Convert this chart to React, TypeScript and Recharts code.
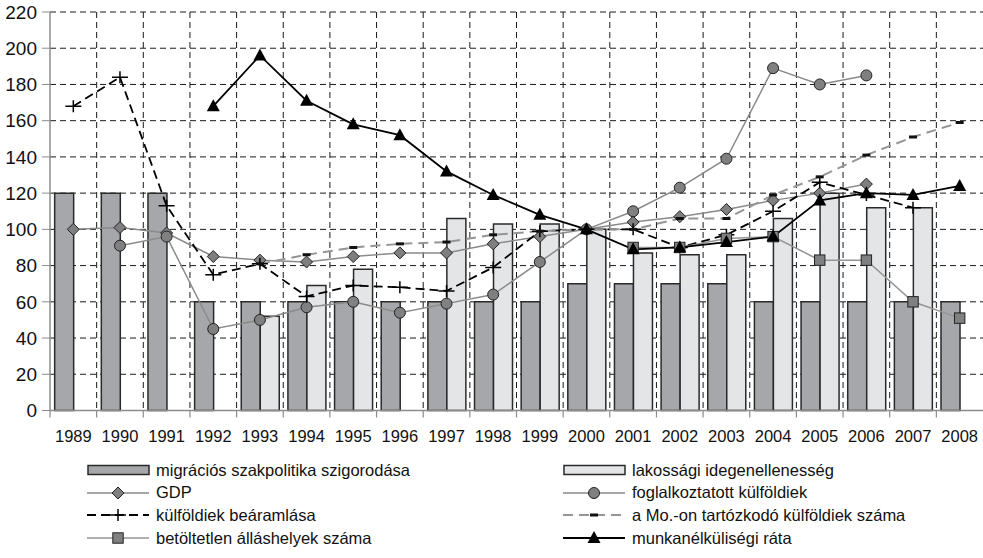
import { ComposedChart, Bar, Line, XAxis, YAxis, CartesianGrid } from 'recharts'

const years = ['1989', '1990', '1991', '1992', '1993', '1994', '1995', '1996', '1997', '1998', '1999', '2000', '2001', '2002', '2003', '2004', '2005', '2006', '2007', '2008']

// index values (null = no data that year)
const szigorodas = [120, 120, 120, 60, 60, 60, 60, 60, 60, 60, 60, 70, 70, 70, 70, 60, 60, 60, 60, 60]
const idegenellenesseg = [null, null, null, null, 52, 69, 78, null, 106, 103, 103, 100, 87, 86, 86, 106, 120, 112, 112, null]
const gdp = [100, 101, 98, 85, 83, 82, 85, 87, 87, 92, 96, 100, 104, 107, 111, 116, 120, 125, null, null]
const foglalkoztatott = [null, 91, 96, 45, 50, 57, 60, 54, 59, 64, 82, 100, 110, 123, 139, 189, 180, 185, null, null]
const bearamlas = [168, 184, 113, 75, 81, 63, 69, 68, 66, 79, 99, 100, 100, 90, 97, 110, 126, 119, 112, null]
const tartozkodo = [null, null, null, null, 81, 86, 90, 92, 93, 97, 99, 100, 100, 106, 106, 119, 129, 141, 151, 159]
const betoltetlen = [null, null, null, null, null, null, null, null, null, null, null, null, 90, 90, 95, 96, 83, 83, 60, 51]
const munkanelkuliseg = [null, null, null, 168, 196, 171, 158, 152, 132, 119, 108, 100, 89, 90, 93, 96, 116, 120, 119, 124]

const yTicks = [0, 20, 40, 60, 80, 100, 120, 140, 160, 180, 200, 220]

const data = years.map((year, i) => ({
  year,
  szigorodas: szigorodas[i],
  idegenellenesseg: idegenellenesseg[i],
  gdp: gdp[i],
  foglalkoztatott: foglalkoztatott[i],
  bearamlas: bearamlas[i],
  tartozkodo: tartozkodo[i],
  betoltetlen: betoltetlen[i],
  munkanelkuliseg: munkanelkuliseg[i],
}))

const W = 983
const H = 558
const MARGIN = { top: 12, right: 0, bottom: 117.5, left: 0 }
const Y_AXIS_W = 50
const X_AXIS_H = 30
const BAND = (W - MARGIN.left - MARGIN.right - Y_AXIS_W) / years.length
const FONT = '"Liberation Sans", Arial, sans-serif'

type DotProps = { cx?: number; cy?: number; index?: number }

const diamond = ({ cx, cy, index }: DotProps) =>
  cy == null || cx == null ? <g key={index} /> : (
    <path key={index} d={`M${cx},${cy - 6}L${cx + 6},${cy}L${cx},${cy + 6}L${cx - 6},${cy}Z`} fill="#7f7f7f" stroke="#222" strokeWidth={1} />
  )

const circle = ({ cx, cy, index }: DotProps) =>
  cy == null || cx == null ? <g key={index} /> : (
    <circle key={index} cx={cx} cy={cy} r={5.5} fill="#808080" stroke="#222" strokeWidth={1} />
  )

const plus = ({ cx, cy, index }: DotProps) =>
  cy == null || cx == null ? <g key={index} /> : (
    <path key={index} d={`M${cx - 8},${cy}H${cx + 8}M${cx},${cy - 6}V${cy + 6}`} stroke="#000" strokeWidth={1.5} fill="none" />
  )

const dash = ({ cx, cy, index }: DotProps) =>
  cy == null || cx == null ? <g key={index} /> : (
    <rect key={index} x={cx - 4} y={cy - 1.5} width={8} height={3} fill="#111" />
  )

const square = ({ cx, cy, index }: DotProps) =>
  cy == null || cx == null ? <g key={index} /> : (
    <rect key={index} x={cx - 5.2} y={cy - 5.2} width={10.4} height={10.4} fill="#808080" stroke="#222" strokeWidth={1} />
  )

const triangle = ({ cx, cy, index }: DotProps) =>
  cy == null || cx == null ? <g key={index} /> : (
    <path key={index} d={`M${cx},${cy - 7}L${cx + 6.5},${cy + 5}L${cx - 6.5},${cy + 5}Z`} fill="#000" />
  )

type Series = {
  key: string
  name: string
  type: 'bar' | 'line'
  color: string
  width?: number
  dashArray?: string
  dot?: (p: DotProps) => any
}

const series: Series[] = [
  { key: 'szigorodas', name: 'migrációs szakpolitika szigorodása', type: 'bar', color: '#a6a7aa' },
  { key: 'idegenellenesseg', name: 'lakossági idegenellenesség', type: 'bar', color: '#e4e5e7' },
  { key: 'gdp', name: 'GDP', type: 'line', color: '#8a8a8a', width: 1.5, dot: diamond },
  { key: 'foglalkoztatott', name: 'foglalkoztatott külföldiek', type: 'line', color: '#8a8a8a', width: 1.5, dot: circle },
  { key: 'bearamlas', name: 'külföldiek beáramlása', type: 'line', color: '#000', width: 1.8, dashArray: '9 5', dot: plus },
  { key: 'tartozkodo', name: 'a Mo.-on tartózkodó külföldiek száma', type: 'line', color: '#959595', width: 2, dashArray: '10 6', dot: dash },
  { key: 'betoltetlen', name: 'betöltetlen álláshelyek száma', type: 'line', color: '#959595', width: 1.5, dot: square },
  { key: 'munkanelkuliseg', name: 'munkanélküliségi ráta', type: 'line', color: '#000', width: 1.8, dot: triangle },
]

// legend: two columns, filled row by row
const legendLeft = [87, 563]
const legendTop = 470
const legendRow = 22.7

const YearTick = ({ x, y, payload }: { x: number; y: number; payload: { value: string } }) => (
  <g>
    <line x1={x - BAND / 2} x2={x - BAND / 2} y1={y - 7} y2={y} stroke="#8c8c8c" strokeWidth={1.2} />
    <text x={x} y={y + 24.5} textAnchor="middle" fontSize={16.5} fontFamily={FONT} fill="#111">
      {payload.value}
    </text>
  </g>
)

function LegendIcon({ s }: { s: Series }) {
  if (s.type === 'bar') {
    return (
      <svg width={64} height={14} style={{ display: 'block' }}>
        <rect x={1} y={2.5} width={61} height={9} fill={s.color} stroke="#2a2a2a" strokeWidth={1.5} />
      </svg>
    )
  }
  return (
    <svg width={64} height={14} style={{ display: 'block' }}>
      <line x1={0} x2={62} y1={7} y2={7} stroke={s.color} strokeWidth={s.width} strokeDasharray={s.dashArray} />
      {s.dot && s.dot({ cx: 31, cy: 7, index: 0 })}
    </svg>
  )
}

export default function App() {
  return (
    <div style={{ position: 'absolute', left: 0, top: 0, width: W, height: H, background: '#fff', fontFamily: FONT }}>
      <ComposedChart width={W} height={H} data={data} margin={MARGIN} barCategoryGap="10%" barGap={0}>
        <CartesianGrid
          stroke="#1a1a1a"
          strokeDasharray="6 4"
          strokeWidth={1}
          verticalCoordinatesGenerator={({ offset }: any) =>
            years.slice(1).map((_, i) => offset.left + ((i + 1) * offset.width) / years.length)
          }
        />
        <XAxis
          dataKey="year"
          height={X_AXIS_H}
          interval={0}
          tickSize={7}
          tickMargin={0}
          tickLine={false}
          axisLine={{ stroke: '#8c8c8c', strokeWidth: 1.5 }}
          tick={YearTick as any}
        />
        <YAxis
          width={Y_AXIS_W}
          domain={[0, 220]}
          ticks={yTicks}
          interval={0}
          tickSize={8}
          tickMargin={5}
          axisLine={{ stroke: '#8c8c8c', strokeWidth: 1.5 }}
          tickLine={{ stroke: '#8c8c8c' }}
          tick={{ fontSize: 19, fill: '#111', fontFamily: FONT }}
        />
        {series.map(s =>
          s.type === 'bar' ? (
            <Bar key={s.key} dataKey={s.key} name={s.name} fill={s.color} stroke="#2a2a2a" strokeWidth={1.5} isAnimationActive={false} />
          ) : (
            <Line
              key={s.key}
              dataKey={s.key}
              name={s.name}
              type="linear"
              stroke={s.color}
              strokeWidth={s.width}
              strokeDasharray={s.dashArray}
              dot={s.dot as any}
              activeDot={false}
              isAnimationActive={false}
            />
          )
        )}
      </ComposedChart>
      {series.map((s, i) => (
        <div
          key={s.key}
          style={{
            position: 'absolute',
            left: legendLeft[i % 2],
            top: legendTop + Math.floor(i / 2) * legendRow - 10,
            height: 20,
            display: 'flex',
            alignItems: 'center',
            whiteSpace: 'nowrap',
            fontSize: 16.5,
            color: '#111',
          }}
        >
          <LegendIcon s={s} />
          <span style={{ marginLeft: 5 }}>{s.name}</span>
        </div>
      ))}
    </div>
  )
}
